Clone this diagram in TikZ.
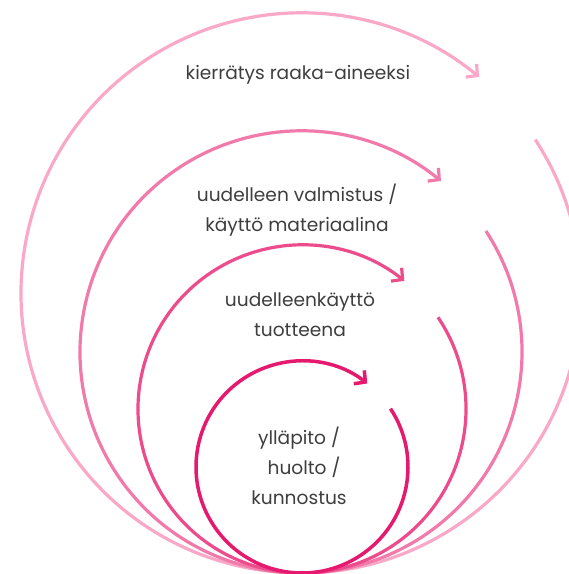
\documentclass[tikz,border=0pt]{standalone}
\usepackage{fontspec}
\setmainfont{Poppins}
\usetikzlibrary{arrows.meta}
\definecolor{ringA}{HTML}{F9A8C8}
\definecolor{ringB}{HTML}{F27AAA}
\definecolor{ringC}{HTML}{EC4B8C}
\definecolor{ringD}{HTML}{E5196E}
\definecolor{txt}{HTML}{3E3E3E}
\begin{document}
\begin{tikzpicture}[x=1pt,y=1pt,
  ring/.style={line width=3.2pt, line cap=butt, -{Straight Barb[length=8pt,width=17pt]}},
  lbl/.style={text=txt, font=\fontsize{18.6}{30}\selectfont, align=center, inner sep=0pt}]
\useasboundingbox (0,0) rectangle (569,574);
\coordinate (c1) at (301,281);
\coordinate (c2) at (301,222);
\coordinate (c3) at (302,165);
\coordinate (c4) at (302,107);
\draw[ring, ringA, shift={(c1)}] (33.2:280) arc[start angle=33.2, end angle=-309.5, radius=280];
\draw[ring, ringB, shift={(c2)}] (33.2:221) arc[start angle=33.2, end angle=-309.3, radius=221];
\draw[ring, ringC, shift={(c3)}] (34:164) arc[start angle=34, end angle=-308.6, radius=164];
\draw[ring, ringD, line width=3.5pt, shift={(c4)}] (33.4:106) arc[start angle=33.4, end angle=-308, radius=106];
\node[lbl] (t1) at (298,499) {kierrätys raaka-aineeksi};
\node[lbl] (t2) at (297,364) {uudelleen valmistus /\\käyttö materiaalina};
\node[lbl] (t3) at (300,259) {uudelleenkäyttö\\tuotteena};
\node[lbl] (t4) at (299,108) {ylläpito /\\\hspace*{10pt}huolto /\\kunnostus};
\end{tikzpicture}
\end{document}
